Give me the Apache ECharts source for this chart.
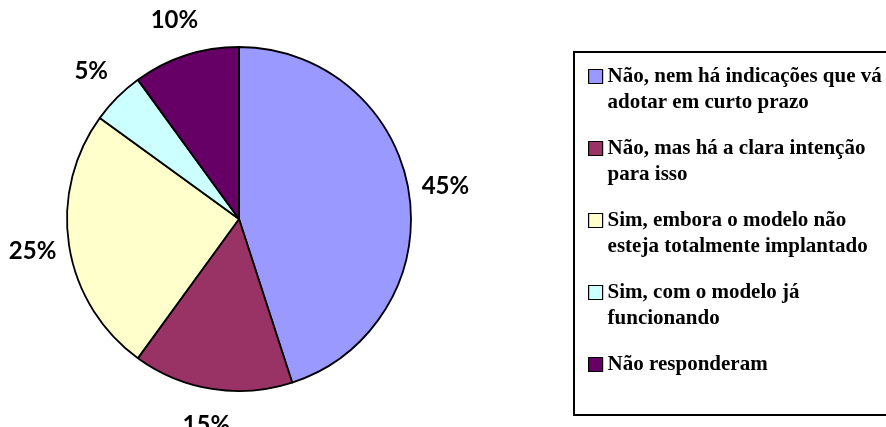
<!DOCTYPE html>
<html>
<head>
<meta charset="utf-8">
<style>
  html, body { margin: 0; padding: 0; background: #ffffff; }
  #chart { width: 886px; height: 427px; }
</style>
<script src="https://cdn.jsdelivr.net/npm/echarts@6/dist/echarts.min.js"></script>
</head>
<body>
<div id="chart"></div>
<script>
// Survey answers (share of respondents, %)
const categories = [
  'Não, nem há indicações que vá\nadotar em curto prazo',
  'Não, mas há a clara intenção\npara isso',
  'Sim, embora o modelo não\nesteja totalmente implantado',
  'Sim, com o modelo já\nfuncionando',
  'Não responderam'
];
const shares = [45, 15, 25, 5, 10];
const sliceColors = ['#9999FF', '#993366', '#FFFFCC', '#CCFFFF', '#660066'];

const pieData = categories.map((name, i) => ({
  name: name,
  value: shares[i],
  itemStyle: { color: sliceColors[i] }
}));

// Legend entries: top padding keeps the square level with the first text line
const legendData = categories.map(name => {
  const lines = name.split('\n').length;
  return {
    name: name,
    textStyle: { padding: lines > 1 ? [26, 0, 0, 0] : [26, 0, 26, 0] }
  };
});

const chart = echarts.init(document.getElementById('chart'), null, { renderer: 'canvas' });

chart.setOption({
  backgroundColor: '#ffffff',
  animation: false,
  legend: {
    orient: 'vertical',
    left: 588,
    top: 66,
    padding: 0,
    itemGap: 25,
    itemWidth: 14,
    itemHeight: 14,
    icon: 'rect',
    selectedMode: false,
    itemStyle: { borderColor: '#000000', borderWidth: 1.2 },
    formatter: name => name.split('\n').map(s => '{t|' + s + '}').join('\n'),
    textStyle: {
      color: '#000000',
      rich: {
        t: {
          fontFamily: '"Liberation Serif", "Times New Roman", serif',
          fontWeight: 'bold',
          fontSize: 21,
          lineHeight: 26,
          color: '#000000'
        }
      }
    },
    data: legendData
  },
  graphic: [{
    type: 'rect',
    silent: true,
    shape: { x: 574, y: 52, width: 400, height: 363 },
    style: { fill: 'none', stroke: '#000000', lineWidth: 2 }
  }],
  series: [
    {
      type: 'pie',
      center: [239, 219],
      radius: [0, 172],
      startAngle: 90,
      clockwise: true,
      silent: true,
      label: { show: false },
      labelLine: { show: false },
      itemStyle: { borderColor: '#000000', borderWidth: 1.8 },
      emphasis: { disabled: true },
      data: pieData
    },
    {
      // transparent ring that carries the percentage labels outside the pie
      type: 'pie',
      center: [239, 219],
      radius: [172, 240],
      startAngle: 90,
      clockwise: true,
      silent: true,
      itemStyle: { color: 'transparent', borderWidth: 0 },
      emphasis: { disabled: true },
      labelLine: { show: false },
      label: {
        show: true,
        position: 'inside',
        formatter: p => p.value + '%',
        fontFamily: 'Lato, "Open Sans", sans-serif',
        fontWeight: 'bold',
        fontSize: 24,
        color: '#000000'
      },
      data: pieData.map(d => ({ name: d.name, value: d.value }))
    }
  ]
});
</script>
</body>
</html>
